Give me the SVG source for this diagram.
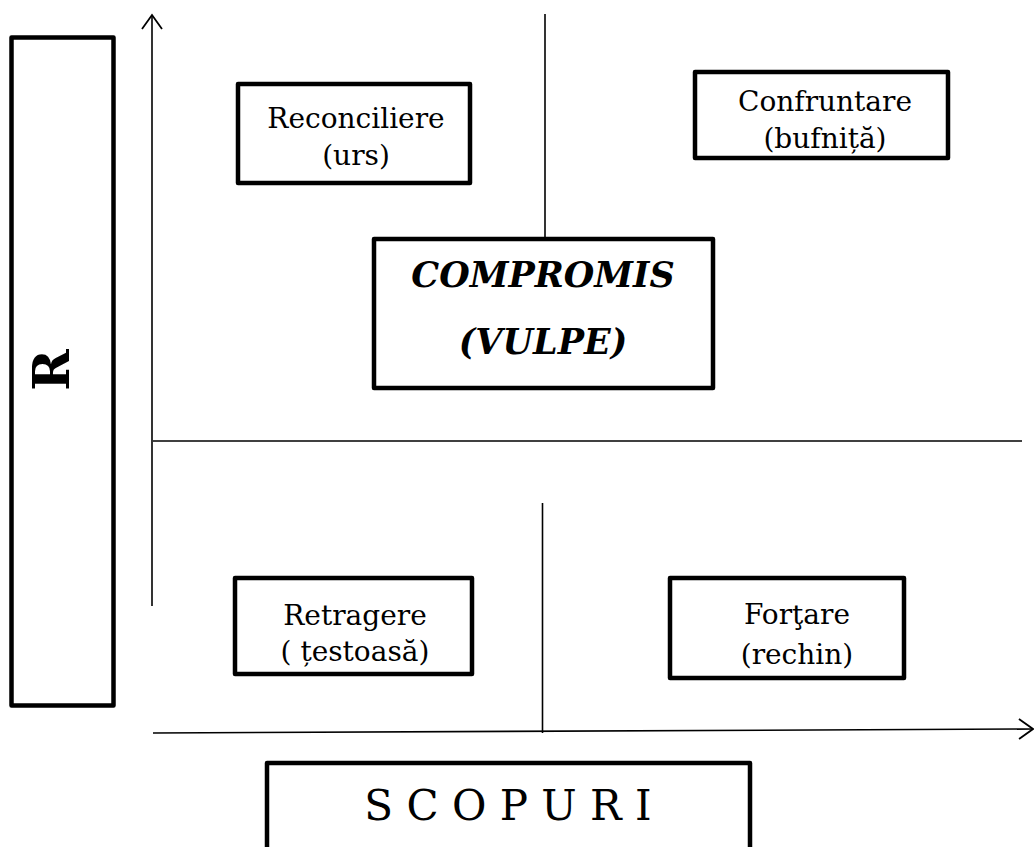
<svg xmlns="http://www.w3.org/2000/svg" width="1034" height="847" viewBox="0 0 1034 847">
<style>
.box{fill:#fff;stroke:#000;stroke-width:4.5;stroke-linejoin:round}
.ln{fill:none;stroke:#000;stroke-width:1.6}
.t{font-family:"DejaVu Serif","Liberation Serif",serif;font-size:28px;fill:#000;text-anchor:middle}
.b{font-weight:bold;font-style:italic;font-size:35px}
</style>
<defs>
<marker id="ah" markerUnits="userSpaceOnUse" markerWidth="30" markerHeight="30" viewBox="-15 -15 30 30" refX="0" refY="0" orient="auto">
<path d="M-14,-10 L0,0 L-14,10" fill="none" stroke="#000" stroke-width="1.8"/>
</marker>
</defs>
<rect width="1034" height="847" fill="#fff"/>
<g id="connectors">
<line class="ln" x1="152" y1="606" x2="152" y2="15" marker-end="url(#ah)"/>
<line class="ln" x1="153" y1="733" x2="1033" y2="729" marker-end="url(#ah)"/>
<line class="ln" x1="153" y1="441" x2="1022" y2="441"/>
<line class="ln" x1="545" y1="14" x2="545" y2="239"/>
<line class="ln" x1="542.5" y1="503" x2="542.5" y2="733"/>
</g>
<g id="r-axis">
<rect class="box" x="11.5" y="37.5" width="102" height="668"/>
<text class="t" style="font-weight:bold;font-size:50px" transform="translate(69,370) rotate(-90)" x="0" y="0">R</text>
</g>
<g id="reconciliere">
<rect class="box" x="238" y="84" width="232" height="99"/>
<text class="t" x="356" y="128">Reconciliere</text>
<text class="t" x="356" y="165">(urs)</text>
</g>
<g id="confruntare">
<rect class="box" x="695" y="72" width="253" height="86"/>
<text class="t" x="825" y="111">Confruntare</text>
<text class="t" x="825" y="148">(bufniță)</text>
</g>
<g id="compromis">
<rect class="box" x="374" y="239" width="339" height="149"/>
<text class="t b" x="543" y="287">COMPROMIS</text>
<text class="t b" x="543" y="354">(VULPE)</text>
</g>
<g id="retragere">
<rect class="box" x="235" y="578" width="237" height="96"/>
<text class="t" x="355" y="625">Retragere</text>
<text class="t" x="355" y="661">( țestoasă)</text>
</g>
<g id="fortare">
<rect class="box" x="670" y="578" width="234" height="100"/>
<text class="t" x="797" y="624">Forţare</text>
<text class="t" x="797" y="664">(rechin)</text>
</g>
<g id="scopuri">
<rect class="box" x="267" y="763" width="483" height="100"/>
<text class="t" style="font-size:42px" x="508" y="820">S C O P U R I</text>
</g>
</svg>
